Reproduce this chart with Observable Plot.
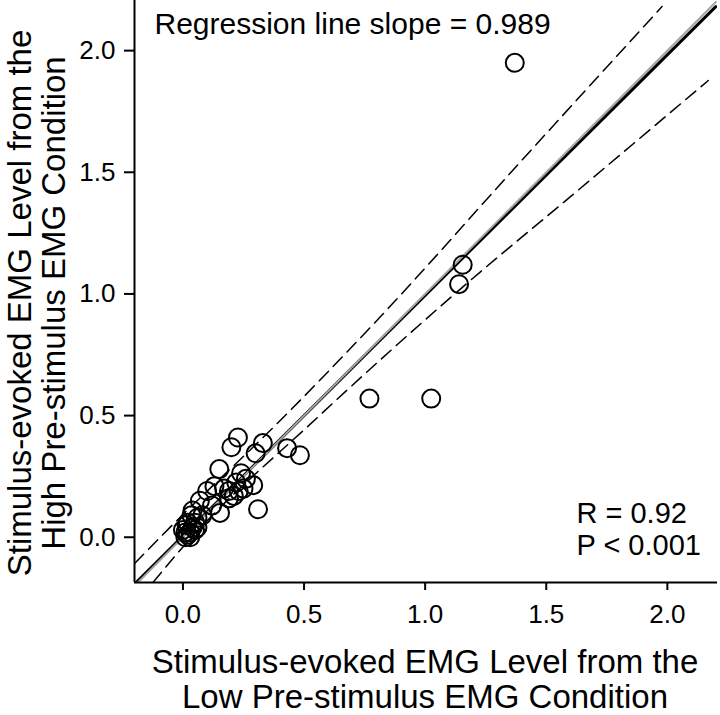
<!DOCTYPE html>
<html>
<head>
<meta charset="utf-8">
<script src="https://cdn.jsdelivr.net/npm/d3@7"></script>
<script src="https://cdn.jsdelivr.net/npm/@observablehq/plot@0.6"></script>
<style>
  html, body { margin: 0; padding: 0; background: #fff; }
  #chart svg { display: block; }
</style>
</head>
<body>
<div id="chart"></div>
<script>
// Data
const lowX = [1.37, 1.155, 1.14, 0.77, 1.025,
  0.227, 0.20, 0.33, 0.43, 0.483, 0.30, 0.15, 0.24, 0.29, 0.31, 0.153, 0.10, 0.13, 0.22, 0.25,
  0.19, 0.19, 0.26, 0.07, 0.04, 0.08, 0.015, 0.21, 0.17, 0.23, 0.12, 0.06,
  0.0, 0.01, 0.02, 0.03, 0.04, 0.05, 0.02, 0.05, 0.01, 0.03, 0.06, 0.035];
const highY = [1.95, 1.12, 1.04, 0.57, 0.57,
  0.41, 0.37, 0.387, 0.366, 0.337, 0.345, 0.28, 0.263, 0.214, 0.115, 0.10, 0.19, 0.21, 0.225, 0.20,
  0.19, 0.16, 0.24, 0.15, 0.11, 0.09, 0.05, 0.17, 0.20, 0.19, 0.13, 0.08,
  0.03, 0.02, 0.01, 0.02, 0.04, 0.03, 0.06, 0.06, 0.0, 0.0, 0.04, 0.09];

const slope = 0.989;
const intercept = 0.005;
const lineX = [-0.2, 2.2];

const upperBandX = [-0.2, -0.087, 0.43, 0.814, 1.4, 1.978];
const upperBandY = [-0.108, 0.007, 0.508, 0.905, 1.55, 2.181];
const lowerBandX = [-0.124, 0.0, 0.553, 1.157, 1.6, 2.169];
const lowerBandY = [-0.186, -0.04, 0.49, 1.03, 1.40, 1.877];

const ticks = [0, 0.5, 1.0, 1.5, 2.0];
const xDomain = [-0.2, 2.207];
const yDomain = [-0.186, 2.206];

const points = lowX.map((x, i) => ({x, y: highY[i]}));
const regLine = lineX.map(x => ({x, y: slope * x + intercept}));
const identity = lineX.map(x => ({x, y: x}));
const upper = upperBandX.map((x, i) => ({x, y: upperBandY[i]}));
const lower = lowerBandX.map((x, i) => ({x, y: lowerBandY[i]}));

const font = "'Liberation Sans', Arial, Helvetica, sans-serif";

const plot = Plot.plot({
  width: 720,
  height: 715,
  marginLeft: 134,
  marginRight: 3,
  marginTop: 0,
  marginBottom: 133,
  style: {fontFamily: font, fontSize: "26px", color: "#000", background: "#fff"},
  x: {domain: xDomain},
  y: {domain: yDomain},
  marks: [
    Plot.line(upper, {x: "x", y: "y", stroke: "#000", strokeWidth: 1.5, strokeDasharray: "13,7", curve: "monotone-x", clip: true}),
    Plot.line(lower, {x: "x", y: "y", stroke: "#000", strokeWidth: 1.5, strokeDasharray: "13,7", curve: "monotone-x", clip: true}),
    Plot.line(regLine, {x: "x", y: "y", stroke: "#000", strokeWidth: 3, clip: true}),
    Plot.line(identity, {x: "x", y: "y", stroke: "#a6a6a6", strokeWidth: 2, clip: true}),
    Plot.dot(points, {x: "x", y: "y", r: 9, stroke: "#000", strokeWidth: 2, fill: "none"}),
    Plot.ruleX([xDomain[0]], {stroke: "#000", strokeWidth: 2}),
    Plot.ruleY([yDomain[0]], {stroke: "#000", strokeWidth: 2}),
    Plot.axisX({ticks, tickFormat: d3.format(".1f"), tickSize: 8, tickPadding: 14, strokeWidth: 2, fontSize: 26, label: null}),
    Plot.axisY({ticks, tickFormat: d3.format(".1f"), tickSize: 10, tickPadding: 9, strokeWidth: 2, fontSize: 26, label: null}),
    Plot.text(["Regression line slope = 0.989"], {frameAnchor: "top-left", dx: 20, dy: 12, textAnchor: "start", fontSize: 30, fill: "#000"}),
    Plot.text(["R = 0.92\nP < 0.001"], {frameAnchor: "bottom-right", dx: -141, dy: -28, textAnchor: "start", lineAnchor: "bottom", lineHeight: 1.07, fontSize: 29, fill: "#000"})
  ]
});

const svg = d3.select(plot);
const titleSize = 33;
svg.append("text")
  .attr("transform", "translate(31,303) rotate(-90)")
  .attr("text-anchor", "middle")
  .attr("font-family", font).attr("font-size", titleSize).attr("fill", "#000")
  .text("Stimulus-evoked EMG Level from the");
svg.append("text")
  .attr("transform", "translate(65,303) rotate(-90)")
  .attr("text-anchor", "middle")
  .attr("font-family", font).attr("font-size", titleSize).attr("fill", "#000")
  .text("High Pre-stimulus EMG Condition");
svg.append("text")
  .attr("x", 425).attr("y", 673)
  .attr("text-anchor", "middle")
  .attr("font-family", font).attr("font-size", titleSize).attr("fill", "#000")
  .text("Stimulus-evoked EMG Level from the");
svg.append("text")
  .attr("x", 425).attr("y", 708)
  .attr("text-anchor", "middle")
  .attr("font-family", font).attr("font-size", titleSize).attr("fill", "#000")
  .text("Low Pre-stimulus EMG Condition");

document.getElementById("chart").appendChild(plot);
</script>
</body>
</html>
